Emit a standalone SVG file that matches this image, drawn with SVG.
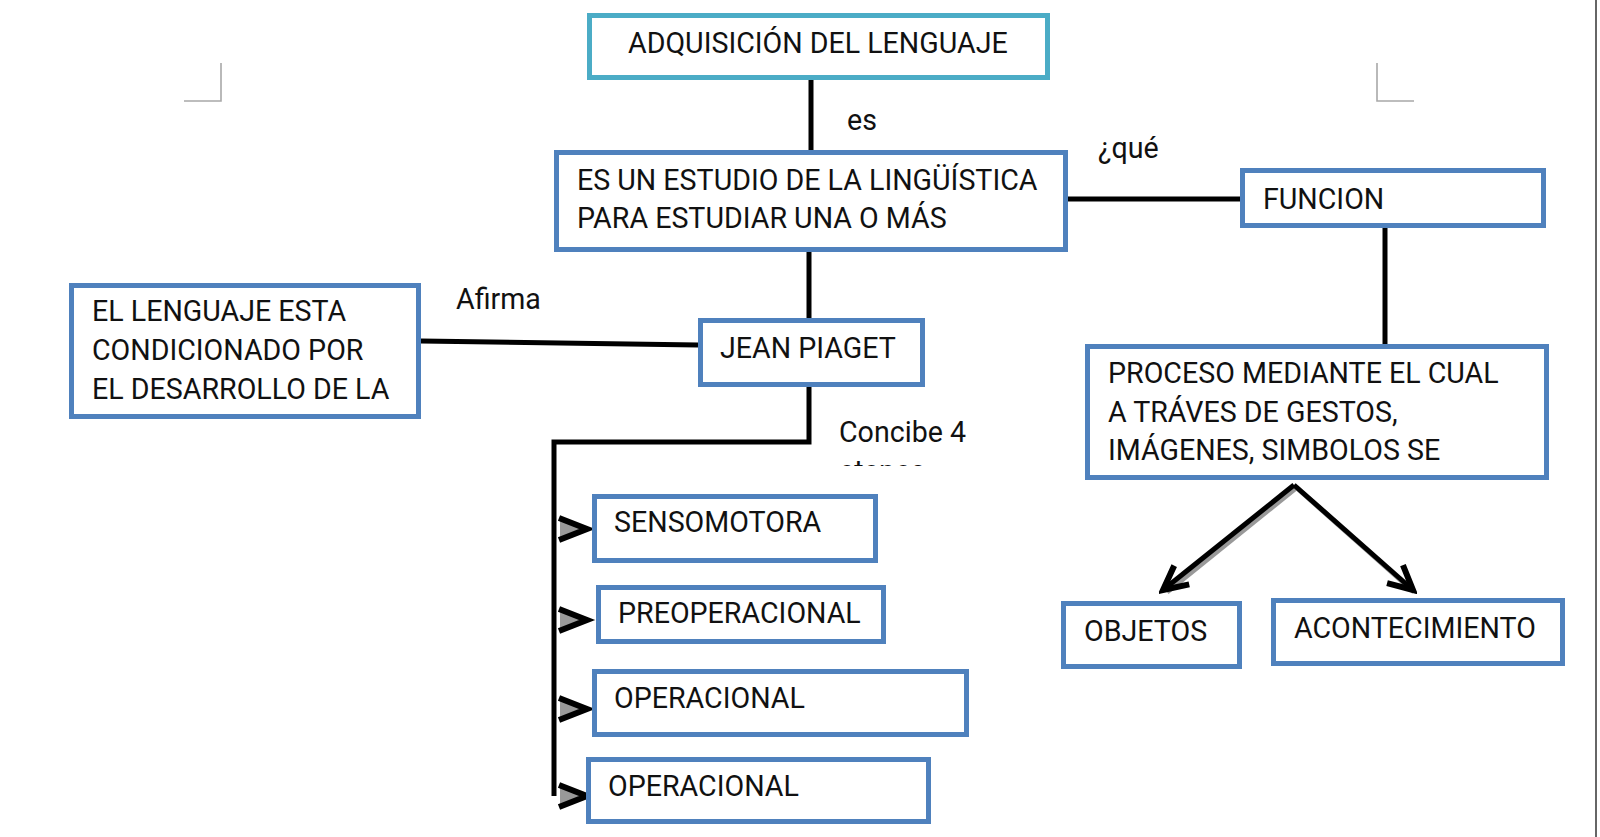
<svg xmlns="http://www.w3.org/2000/svg" width="1600" height="837" viewBox="0 0 1600 837">
<style>
.box{fill:#fff;stroke:#4F81BD;stroke-width:5}
.top{fill:#fff;stroke:#4BACC6;stroke-width:5}
.t{font-family:Roboto,"Liberation Sans",sans-serif;font-size:28.6px;fill:#111}
.c{stroke:#000;stroke-width:5;fill:none}
.sh{stroke:#999;stroke-width:5;fill:none}
.mark{stroke:#a8a8a8;stroke-width:1.6;fill:none}
</style>
<defs>
<marker id="chev" viewBox="0 0 34 34" markerWidth="34" markerHeight="34" refX="29" refY="17" orient="auto" markerUnits="userSpaceOnUse">
<path d="M5,5 L29,17 L5,29" stroke="#000" stroke-width="6" fill="none"/>
</marker>
<g id="stage">
<path d="M-27,-9 L-3,0 L-27,9 Z" fill="#999"/>
<path d="M-28,-11 L0,0 L-28,11" stroke="#000" stroke-width="6" fill="none"/>
</g>
<clipPath id="clipEt"><rect x="820" y="450" width="200" height="16"/></clipPath>
</defs>
<rect width="1600" height="837" fill="#fff"/>
<line x1="1596" y1="0" x2="1596" y2="837" stroke="#333" stroke-width="1.5"/>
<g id="page-marks">
<path class="mark" d="M221,63 V101 H184"/>
<path class="mark" d="M1377,63 V101 H1414"/>
</g>
<g id="connectors">
<line class="c" x1="811" y1="80" x2="811" y2="150"/>
<line class="c" x1="1068" y1="199" x2="1240" y2="199"/>
<line class="c" x1="1385" y1="228" x2="1385" y2="344"/>
<line class="c" x1="809" y1="252" x2="809" y2="318"/>
<line class="c" x1="421" y1="341" x2="698" y2="345"/>
<polyline class="c" points="809,387 809,442 554,442 554,796"/>
<use href="#stage" x="587" y="529"/>
<use href="#stage" x="587" y="620"/>
<use href="#stage" x="587" y="709"/>
<use href="#stage" x="587" y="796"/>
<line class="sh" x1="1296" y1="488" x2="1167" y2="592"/>
<line class="sh" x1="1297" y1="488" x2="1414" y2="592"/>
<line class="c" x1="1294" y1="485" x2="1163" y2="590" marker-end="url(#chev)"/>
<line class="c" x1="1294" y1="485" x2="1413" y2="590" marker-end="url(#chev)"/>
</g>
<g id="labels">
<text class="t" x="847" y="130">es</text>
<text class="t" x="1098" y="158">¿qué</text>
<text class="t" x="456" y="309">Afirma</text>
<text class="t" x="839" y="442">Concibe 4</text>
<text class="t" x="839" y="481" clip-path="url(#clipEt)">etapas</text>
</g>
<g id="n-adquisicion">
<rect class="top" x="589.5" y="15.5" width="458" height="62"/>
<text class="t" x="628" y="53">ADQUISICIÓN DEL LENGUAJE</text>
</g>
<g id="n-estudio">
<rect class="box" x="556.5" y="152.5" width="509" height="97"/>
<text class="t" x="577" y="190">ES UN ESTUDIO DE LA LINGÜÍSTICA</text>
<text class="t" x="577" y="228">PARA ESTUDIAR UNA O MÁS</text>
</g>
<g id="n-funcion">
<rect class="box" x="1242.5" y="170.5" width="301" height="55"/>
<text class="t" x="1263" y="209">FUNCION</text>
</g>
<g id="n-proceso">
<rect class="box" x="1087.5" y="346.5" width="459" height="131"/>
<text class="t" x="1108" y="383">PROCESO MEDIANTE EL CUAL</text>
<text class="t" x="1108" y="422">A TRÁVES DE GESTOS,</text>
<text class="t" x="1108" y="460">IMÁGENES, SIMBOLOS SE</text>
</g>
<g id="n-objetos">
<rect class="box" x="1063.5" y="603.5" width="176" height="63"/>
<text class="t" x="1084" y="641">OBJETOS</text>
</g>
<g id="n-acontecimiento">
<rect class="box" x="1273.5" y="600.5" width="289" height="63"/>
<text class="t" x="1294" y="638">ACONTECIMIENTO</text>
</g>
<g id="n-piaget">
<rect class="box" x="700.5" y="320.5" width="222" height="64"/>
<text class="t" x="720" y="358">JEAN PIAGET</text>
</g>
<g id="n-lenguaje">
<rect class="box" x="71.5" y="285.5" width="347" height="131"/>
<text class="t" x="92" y="321">EL LENGUAJE ESTA</text>
<text class="t" x="92" y="360">CONDICIONADO POR</text>
<text class="t" x="92" y="399">EL DESARROLLO DE LA</text>
</g>
<g id="n-sensomotora">
<rect class="box" x="594.5" y="496.5" width="281" height="64"/>
<text class="t" x="614" y="532">SENSOMOTORA</text>
</g>
<g id="n-preoperacional">
<rect class="box" x="598.5" y="587.5" width="285" height="54"/>
<text class="t" x="618" y="623">PREOPERACIONAL</text>
</g>
<g id="n-operacional1">
<rect class="box" x="594.5" y="671.5" width="372" height="63"/>
<text class="t" x="614" y="708">OPERACIONAL</text>
</g>
<g id="n-operacional2">
<rect class="box" x="588.5" y="759.5" width="340" height="62"/>
<text class="t" x="608" y="796">OPERACIONAL</text>
</g>
</svg>
